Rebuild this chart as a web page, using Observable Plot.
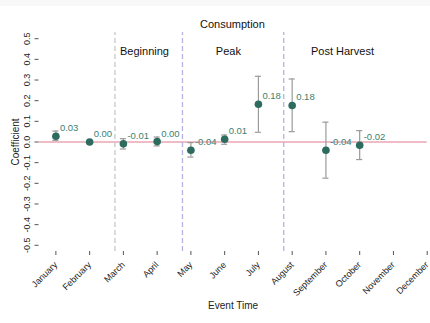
<!DOCTYPE html>
<html><head><meta charset="utf-8">
<script src="https://cdn.jsdelivr.net/npm/d3@7"></script>
<script src="https://cdn.jsdelivr.net/npm/@observablehq/plot@0.6"></script>
<style>
body{margin:0;background:#fff;}
#strip{height:6px;background:#f8f8f8;}
</style></head><body><div id="strip"></div><div id="chart"></div>
<script>
const months = ["January","February","March","April","May","June","July","August","September","October","November","December"];
const coef = [0.028, 0.0, -0.009, 0.002, -0.04, 0.013, 0.183, 0.177, -0.04, -0.016];
const lower = [0.008, -0.002, -0.034, -0.019, -0.073, -0.011, 0.047, 0.05, -0.175, -0.085];
const upper = [0.053, 0.002, 0.016, 0.024, -0.003, 0.034, 0.318, 0.305, 0.096, 0.055];
const coefLabels = ["0.03","0.00","-0.01","0.00","-0.04","0.01","0.18","0.18","-0.04","-0.02"];
const yTicks = [-0.5,-0.4,-0.3,-0.2,-0.1,0,0.1,0.2,0.3,0.4,0.5];
const periodBreaks = [2.75, 4.75, 7.75];
const periodColors = ["#c8c8c8","#b7b0e2","#b7b0e2"];
const periodNames = ["Beginning","Peak","Post Harvest"];
const periodLabelX = [3.625, 6.11, 9.49];
const titleText = "Consumption";

const data = coef.map((c,i)=>({m:i+1, c, lo:lower[i], hi:upper[i], label:coefLabels[i]}));
const breaks = periodBreaks.map((b,i)=>({b, color:periodColors[i]}));
const periods = periodNames.map((n,i)=>({n, x:periodLabelX[i]}));
const capHalf = 0.09;

const chart = Plot.plot({
  width: 430,
  height: 317,
  marginLeft: 38.5,
  marginRight: 3.3,
  marginTop: 26,
  marginBottom: 72,
  style: {fontFamily: "'Liberation Sans', Arial, Helvetica, sans-serif", fontSize: "9px", color: "#222", background: "#fff"},
  x: {domain: [0.5, 12]},
  y: {domain: [-0.53, 0.53]},
  marks: [
    Plot.ruleY([0], {stroke: "#e07b8e", strokeWidth: 1}),
    Plot.ruleX(breaks, {x: "b", y1: -0.53, y2: 0.53, stroke: "color", strokeWidth: 1.3, strokeDasharray: "5,3"}),
    Plot.ruleX(data, {x: "m", y1: "lo", y2: "hi", stroke: "#9a9a9a", strokeWidth: 1.2}),
    Plot.ruleY(data, {y: "lo", x1: d => d.m - capHalf, x2: d => d.m + capHalf, stroke: "#9a9a9a", strokeWidth: 1.2}),
    Plot.ruleY(data, {y: "hi", x1: d => d.m - capHalf, x2: d => d.m + capHalf, stroke: "#9a9a9a", strokeWidth: 1.2}),
    Plot.dot(data, {x: "m", y: "c", r: 3.8, fill: "#2e6b5f", stroke: "none"}),
    Plot.text(data, {x: "m", y: "c", text: "label", dx: 4, dy: -8, textAnchor: "start", fill: "#3c7f72", fontSize: 9.5}),
    Plot.text(periods, {x: "x", y: 0.438, text: "n", fontSize: 11, fill: "#111"}),
    Plot.text([titleText], {x: 6.23, y: 0.569, text: d => d, fontSize: 11, fill: "#111"}),
    Plot.axisY({ticks: yTicks, tickSize: 4, tickRotate: -90, tickFormat: d => d.toFixed(1), line: true, stroke: "#555", label: "Coefficient", labelArrow: "none", labelAnchor: "center", labelOffset: 27, fontSize: 9}),
    Plot.axisX({ticks: months.map((_, i) => i + 1), tickSize: 4, tickRotate: -45, tickFormat: d => months[d - 1], line: true, stroke: "#555", label: "Event Time", labelArrow: "none", labelAnchor: "center", labelOffset: 57, fontSize: 9})
  ]
});
chart.querySelectorAll("g[aria-label='y-axis label'] text, g[aria-label='x-axis label'] text").forEach(t => t.setAttribute("font-size", "10"));
document.getElementById("chart").appendChild(chart);
</script></body></html>
